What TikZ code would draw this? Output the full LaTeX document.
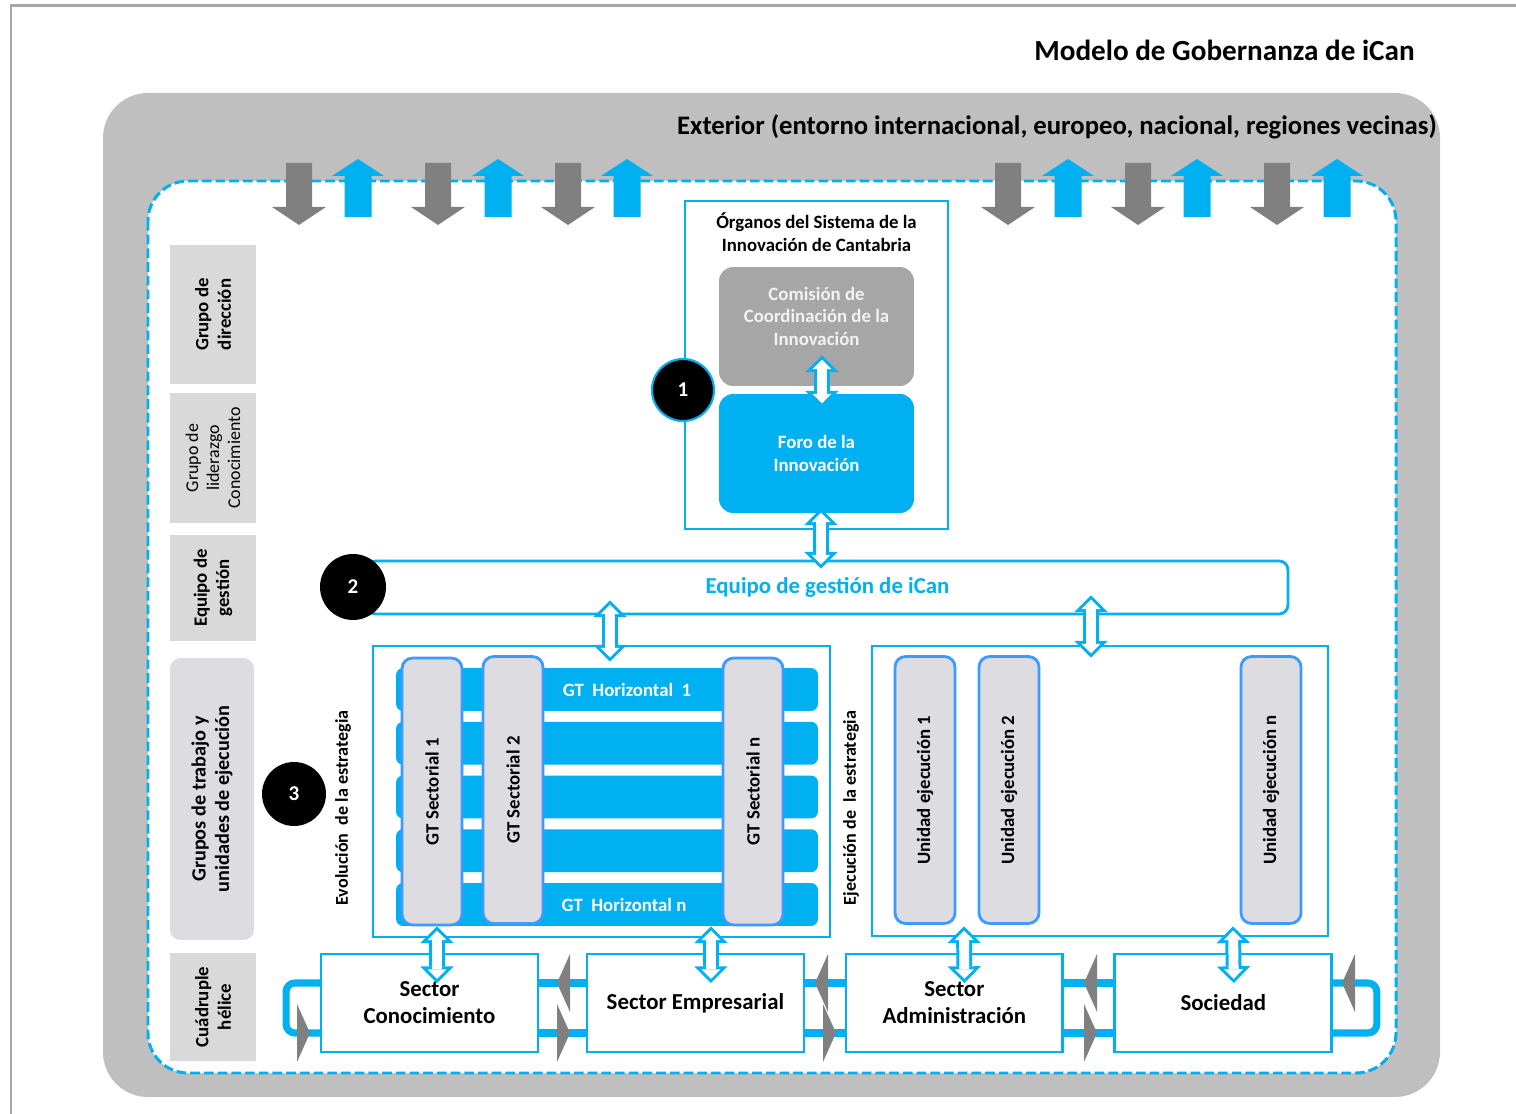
\documentclass[tikz,border=0pt]{standalone}
\usepackage{fontspec}
\setmainfont{Carlito}
\usepackage{xcolor}
\usetikzlibrary{arrows.meta,positioning,calc}

\definecolor{icyan}{HTML}{00B0F0}
\definecolor{framegray}{HTML}{BFBFBF}
\definecolor{pagegray}{HTML}{A6A6A6}
\definecolor{arrowgray}{HTML}{808080}
\definecolor{comgray}{HTML}{A6A6A6}
\definecolor{comtext}{HTML}{F2F2F2}
\definecolor{lblgray}{HTML}{D9D9D9}
\definecolor{gtgray}{HTML}{DDDCE1}
\definecolor{gtblue}{HTML}{3D9BFF}

\begin{document}
\begin{tikzpicture}[
    x=0.02cm, y=-0.02cm,
    font=\bfseries\fontsize{10.7}{12.8}\selectfont,
    lbl/.style={fill=lblgray, rotate=90, align=center, inner sep=0pt},
    orgbox/.style={draw=icyan, line width=1.6pt, fill=white},
    inbox/.style={rounded corners=8pt, align=center, inner sep=0pt,
                  minimum width=3.9cm, minimum height=2.38cm},
    num/.style={circle, fill=black, text=white, inner sep=0pt,
                font=\bfseries\fontsize{12}{14}\selectfont},
    bar/.style={fill=icyan, rounded corners=4pt, minimum width=8.44cm,
                minimum height=0.86cm, inner sep=0pt},
    gtbox/.style={draw=gtblue, line width=1.6pt, fill=gtgray, rounded corners=6pt,
                  rotate=90, minimum width=5.34cm, minimum height=1.2cm, inner sep=0pt},
    sector/.style={draw=icyan, line width=1.6pt, fill=white, minimum width=4.34cm,
                   minimum height=1.96cm, align=center, inner sep=0pt, outer sep=0pt,
                   font=\bfseries\fontsize{13}{15.3}\selectfont},
    side/.style={rotate=90, font=\bfseries\fontsize{10.3}{12}\selectfont},
    ring/.style={draw=icyan, line width=4pt, rounded corners=5pt},
    tri/.style={fill=arrowgray},
    dbl/.style={draw=icyan, line width=9pt,
      {Triangle[width=19pt,length=9.5pt,line width=0pt]}-{Triangle[width=19pt,length=9.5pt,line width=0pt]},
      postaction={draw=white, line width=5.6pt, shorten <=2.4pt, shorten >=2.4pt,
        {Triangle[width=10.8pt,length=5.4pt,line width=0pt]}-{Triangle[width=10.8pt,length=5.4pt,line width=0pt]}}}
  ]
    \useasboundingbox (0,0) rectangle (1516,1114);
    \draw[pagegray, line width=1.7pt] (11,1114) -- (11,6) -- (1516,6);

    % exterior and system border
    \fill[framegray, rounded corners=0.9cm] (103,93) rectangle (1440,1097);
    \draw[icyan, fill=white, dash pattern=on 5.5pt off 2.3pt, line width=1.7pt,
          rounded corners=0.8cm] (148,181) rectangle (1396,1073);

    \node[anchor=east, inner sep=0pt, font=\bfseries\fontsize{16.6}{19}\selectfont] (title) at (1415,50)
      {Modelo de Gobernanza de iCan};
    \node[anchor=east, inner sep=0pt, font=\bfseries\fontsize{15.2}{18}\selectfont] (ext) at (1437,127)
      {Exterior (entorno internacional, europeo, nacional, regiones vecinas)};

    % flows in / out
    \foreach \x in {299,438,568,1008,1138,1277}
      \fill[arrowgray] (\x-13,163) -- (\x+13,163) -- (\x+13,207) -- (\x+27,207)
        -- (\x,225) -- (\x-27,207) -- (\x-13,207) -- cycle;
    \foreach \x in {358,498,627,1068,1197,1337}
      \fill[icyan] (\x-13.5,217) -- (\x-13.5,176) -- (\x-26,176) -- (\x,159)
        -- (\x+26,176) -- (\x+13.5,176) -- (\x+13.5,217) -- cycle;

    % left column
    \node[lbl, minimum width=2.78cm, minimum height=1.72cm] (ldir) at (213,314.5) {Grupo de\\dirección};
    \node[lbl, minimum width=2.6cm, minimum height=1.72cm,
          font=\mdseries\fontsize{10.2}{12}\selectfont] (llid) at (213,458) {Grupo de\\liderazgo\\Conocimiento};
    \node[lbl, minimum width=2.12cm, minimum height=1.72cm] (lges) at (213,588) {Equipo de\\gestión};
    \node[lbl, fill=gtgray, rounded corners=6pt, minimum width=5.64cm, minimum height=1.68cm,
          font=\bfseries\fontsize{11.5}{13.5}\selectfont] (lgru)
      at (212,799) {Grupos de trabajo y\\unidades de ejecución};
    \node[lbl, minimum width=2.16cm, minimum height=1.72cm] (lcua) at (213,1007) {Cuádruple\\hélice};

    % 1: organos
    \node[orgbox, minimum width=5.26cm, minimum height=6.56cm] (org) at (816.5,365) {};
    \node[align=center] (orgt) at (816.5,232) {Órganos del Sistema de la\\Innovación de Cantabria};
    \node[inbox, fill=comgray, text=comtext] (com) at (816.5,326.5)
      {\raisebox{0pt}[\height][\dimexpr\depth+0.32cm\relax]{\begin{tabular}{@{}c@{}}Comisión de\\Coordinación de la\\Innovación\end{tabular}}};
    \node[inbox, fill=icyan, text=white] (foro) at (816.5,453.5) {Foro de la\\Innovación};
    \node[num, draw=icyan, line width=1.2pt, minimum size=1.24cm] (n1) at (683,390) {1};

    % 2: equipo de gestion
    \node[draw=icyan, line width=1.6pt, fill=white, rounded corners=5pt, minimum width=18.42cm,
          minimum height=1.06cm, text=icyan, font=\bfseries\fontsize{13}{15}\selectfont]
          (eq) at (827.5,587.5) {Equipo de gestión de iCan};
    \node[num, minimum size=1.32cm] (n2) at (353,587) {2};

    % 3: grupos de trabajo y unidades
    \node[orgbox, minimum width=9.14cm, minimum height=5.82cm] (gt) at (601.5,791.5) {};
    \node[orgbox, minimum width=9.12cm, minimum height=5.8cm] (ue) at (1100,791) {};
    \foreach \y [count=\i] in {689.5,743.25,797,850.75,904.5}
      \node[bar] (h\i) at (607,\y) {};
    \node[text=white] (ht1) at (627,689.5) {GT~~Horizontal~~1};
    \node[text=white] (htn) at (624,904.5) {GT~~Horizontal~n};
    \node[gtbox] (s1) at (432,791.5) {GT Sectorial 1};
    \node[gtbox] (s2) at (513,790) {GT Sectorial 2};
    \node[gtbox] (sn) at (753,791.5) {GT Sectorial n};
    \node[gtbox] (u1) at (925,790) {Unidad ejecución 1};
    \node[gtbox] (u2) at (1009,790) {Unidad ejecución 2};
    \node[gtbox] (un) at (1271,790) {Unidad ejecución n};
    \node[side] (evo) at (343,808) {Evolución~~de la estrategia};
    \node[side] (eje) at (851,808) {Ejecución de~~la estrategia};
    \node[num, minimum size=1.28cm] (n3) at (294,794) {3};

    % cuadruple helice
    \node[sector] (sc) at (429.5,1003) {Sector\\Conocimiento};
    \node[sector, right=0.98cm of sc] (se) {Sector Empresarial};
    \node[sector, right=0.84cm of se] (sa) {Sector\\Administración};
    \node[sector, right=1.04cm of sa] (so) {Sociedad};

    \foreach \a/\b in {sc/se, se/sa, sa/so} {
      \draw[ring] ($(\a.east)+(0,-20)$) -- ($(\b.west)+(0,-20)$);
      \draw[ring] ($(\a.east)+(0,30)$) -- ($(\b.west)+(0,30)$);
    }
    \draw[ring] ($(sc.west)+(0,-20)$) -| ++(-35,50) -- ($(sc.west)+(0,30)$);
    \draw[ring] ($(so.east)+(0,-20)$) -| ++(45,50) -- ($(so.east)+(0,30)$);
    \foreach \x in {557,815,1084,1342}
      \fill[tri] (\x,983) -- (\x+13,954) -- (\x+13,1012) -- cycle;
    \foreach \x in {297,557,823,1084}
      \fill[tri] (\x+13,1033) -- (\x,1004) -- (\x,1062) -- cycle;

    % links
    \draw[dbl] ($(com.south)+(5.5,-31)$) -- ($(foro.north)+(5.5,14)$);
    \draw[dbl] ($(foro.south)+(4.5,-5)$) -- ($(eq.north)+(-6.5,9)$);
    \draw[dbl] ($(eq.south)+(-217.5,-15)$) -- ($(gt.north)+(8.5,17)$);
    \draw[dbl] ($(eq.south)+(263.5,-20)$) -- ($(ue.north)+(-9,13)$);
    \draw[dbl] ($(gt.south)+(-164.5,-12)$) -- ($(sc.north)+(7.5,29)$);
    \draw[dbl] ($(gt.south)+(109.5,-12)$) -- ($(se.north)+(15.5,29)$);
    \draw[dbl] ($(ue.south)+(-136,-11)$) -- ($(sa.north)+(10,29)$);
    \draw[dbl] ($(ue.south)+(133,-11)$) -- ($(so.north)+(10.5,29)$);
\end{tikzpicture}
\end{document}
